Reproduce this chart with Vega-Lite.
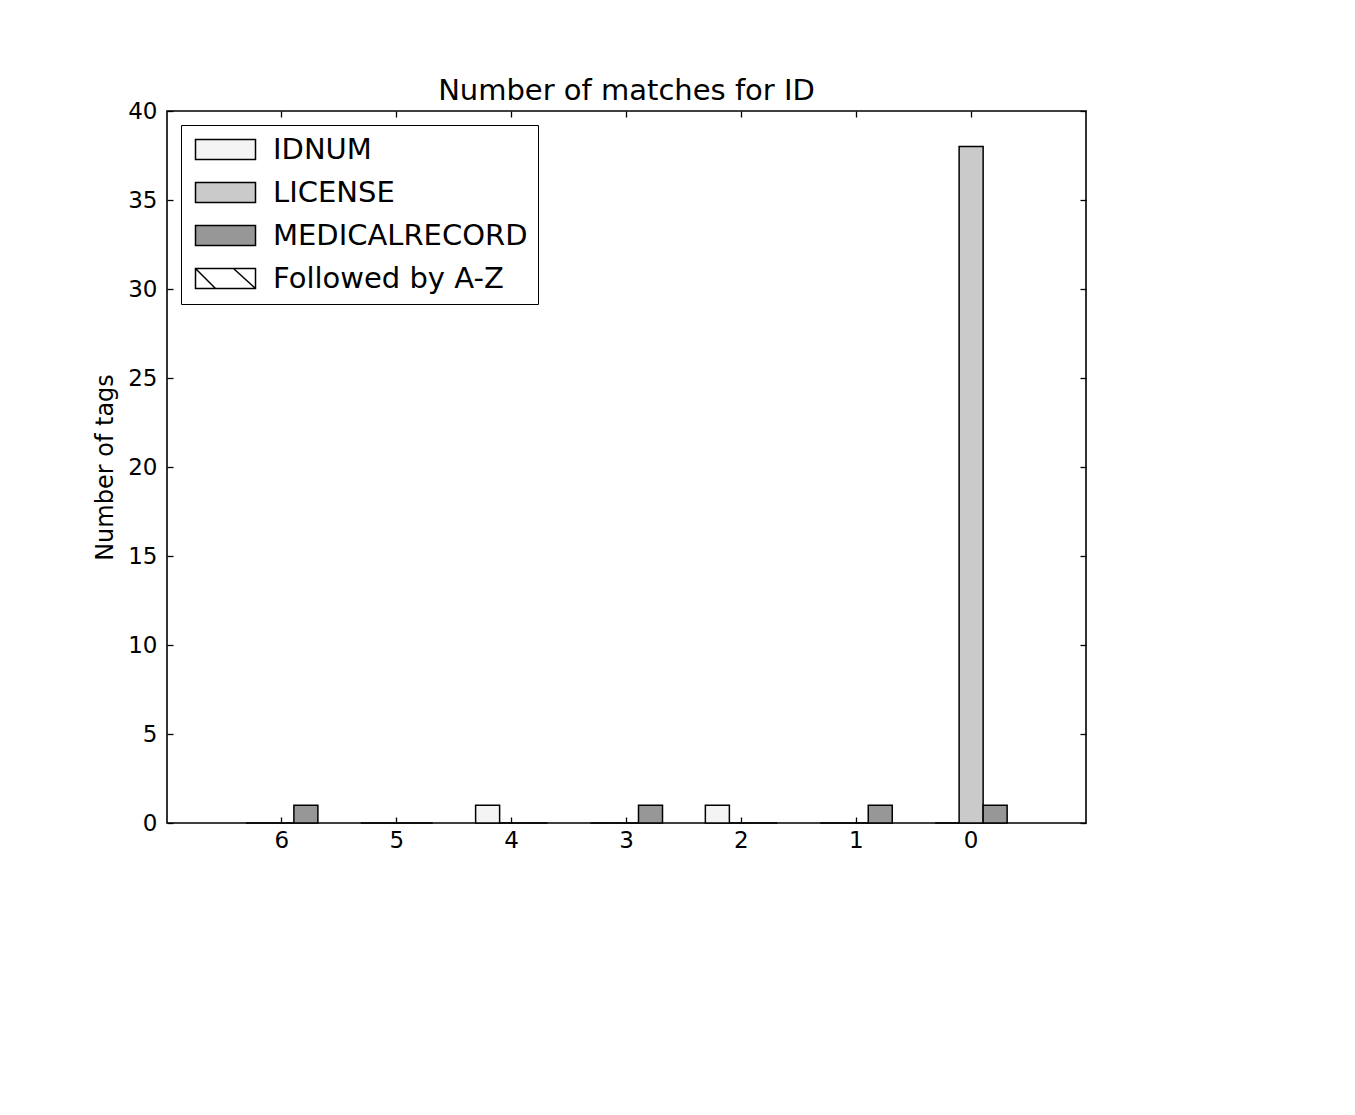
{
  "$schema": "https://vega.github.io/schema/vega-lite/v6.json",
  "autosize": "none",
  "width": 919,
  "height": 712,
  "padding": {"left": 167, "top": 111, "right": 269, "bottom": 292},
  "background": "white",
  "title": {
    "text": "Number of matches for ID",
    "font": "DejaVu Sans",
    "fontSize": 29,
    "fontWeight": "normal",
    "color": "black",
    "offset": -6
  },
  "config": {
    "font": "DejaVu Sans",
    "view": {"stroke": "black", "strokeWidth": 1.6},
    "axis": {
      "domain": false,
      "grid": false,
      "tickColor": "black",
      "tickWidth": 1.3,
      "tickSize": -6,
      "labelColor": "black",
      "labelFont": "DejaVu Sans",
      "labelFontSize": 23,
      "titleColor": "black",
      "titleFont": "DejaVu Sans",
      "titleFontWeight": "normal"
    }
  },
  "data": {
    "values": [
      {"matches": "6", "tag": "IDNUM", "count": 0},
      {"matches": "6", "tag": "LICENSE", "count": 0},
      {"matches": "6", "tag": "MEDICALRECORD", "count": 1},
      {"matches": "5", "tag": "IDNUM", "count": 0},
      {"matches": "5", "tag": "LICENSE", "count": 0},
      {"matches": "5", "tag": "MEDICALRECORD", "count": 0},
      {"matches": "4", "tag": "IDNUM", "count": 1},
      {"matches": "4", "tag": "LICENSE", "count": 0},
      {"matches": "4", "tag": "MEDICALRECORD", "count": 0},
      {"matches": "3", "tag": "IDNUM", "count": 0},
      {"matches": "3", "tag": "LICENSE", "count": 0},
      {"matches": "3", "tag": "MEDICALRECORD", "count": 1},
      {"matches": "2", "tag": "IDNUM", "count": 1},
      {"matches": "2", "tag": "LICENSE", "count": 0},
      {"matches": "2", "tag": "MEDICALRECORD", "count": 0},
      {"matches": "1", "tag": "IDNUM", "count": 0},
      {"matches": "1", "tag": "LICENSE", "count": 0},
      {"matches": "1", "tag": "MEDICALRECORD", "count": 1},
      {"matches": "0", "tag": "IDNUM", "count": 0},
      {"matches": "0", "tag": "LICENSE", "count": 38},
      {"matches": "0", "tag": "MEDICALRECORD", "count": 1}
    ]
  },
  "layer": [
    {
      "mark": {"type": "bar", "stroke": "black", "strokeWidth": 1.5},
      "encoding": {
        "x": {
          "field": "matches",
          "type": "nominal",
          "sort": ["6", "5", "4", "3", "2", "1", "0"],
          "scale": {"paddingInner": 0.373, "paddingOuter": 0.6865},
          "axis": {"orient": "bottom", "title": null, "labelAngle": 0, "labelPadding": 12}
        },
        "xOffset": {
          "field": "tag",
          "type": "nominal",
          "sort": ["IDNUM", "LICENSE", "MEDICALRECORD"],
          "scale": {"paddingInner": 0, "paddingOuter": 0}
        },
        "y": {
          "field": "count",
          "type": "quantitative",
          "scale": {"domain": [0, 40], "nice": false},
          "axis": {
            "orient": "left",
            "values": [0, 5, 10, 15, 20, 25, 30, 35, 40],
            "title": "Number of tags",
            "titleFontSize": 24,
            "titlePadding": 10,
            "labelPadding": 16
          }
        },
        "color": {
          "field": "tag",
          "type": "nominal",
          "scale": {
            "domain": ["IDNUM", "LICENSE", "MEDICALRECORD", "Followed by A-Z"],
            "range": ["#f4f4f4", "#cacaca", "#979797", "#ffffff"]
          },
          "legend": {
            "title": null,
            "orient": "top-left",
            "offset": 14,
            "padding": 10,
            "fillColor": "white",
            "strokeColor": "black",
            "cornerRadius": 0,
            "labelFont": "DejaVu Sans",
            "labelFontSize": 29,
            "labelColor": "black",
            "labelLimit": 0,
            "labelOffset": 53,
            "rowPadding": 13,
            "symbolType": "M-1,-1H5V1H-1Z",
            "symbolSize": 400,
            "symbolStrokeColor": "black",
            "symbolStrokeWidth": 1.5,
            "symbolOpacity": 1,
            "encode": {
              "symbols": {
                "update": {
                  "shape": {
                    "signal": "datum.value === 'Followed by A-Z' ? 'M-1,-1H5V1H-1Z M-1,-1L1,1 M2.8,-1L5,1' : 'M-1,-1H5V1H-1Z'"
                  },
                  "stroke": {"value": "black"},
                  "strokeWidth": {"value": 1.5}
                }
              }
            }
          }
        }
      }
    },
    {
      "mark": {"type": "bar", "opacity": 0},
      "encoding": {
        "x": {
          "field": "matches",
          "type": "nominal",
          "sort": ["6", "5", "4", "3", "2", "1", "0"],
          "axis": {"orient": "top", "title": null, "labels": false}
        },
        "y": {
          "field": "count",
          "type": "quantitative",
          "axis": {
            "orient": "right",
            "values": [0, 5, 10, 15, 20, 25, 30, 35, 40],
            "title": null,
            "labels": false
          }
        }
      }
    }
  ],
  "resolve": {"axis": {"x": "independent", "y": "independent"}}
}
